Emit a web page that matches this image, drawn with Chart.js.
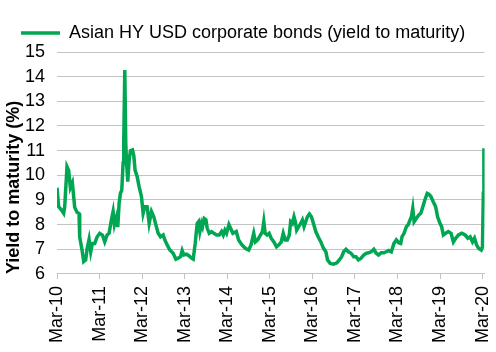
<!DOCTYPE html>
<html>
<head>
<meta charset="utf-8">
<title>Asian HY USD corporate bonds</title>
<script src="https://cdn.jsdelivr.net/npm/chart.js@4"></script>
<style>
  html, body { margin: 0; padding: 0; background: #fff; }
</style>
</head>
<body>
<canvas id="yieldChart" width="496" height="352"></canvas>
<script>
// months since Mar-2010
var monthsFromMar10 = [
  0, 0.47, 1.22, 1.88, 2.16, 2.82, 3.29, 3.76, 4.33, 4.99, 5.65, 6.21, 6.4, 7.06, 7.53, 8.09,
  8.47, 9.04, 9.51, 9.98, 10.64, 11.29, 12.05, 12.8, 13.46, 14.12, 14.68, 15.34, 15.81, 16.19,
  16.75, 17.13, 17.51, 17.88, 18.26, 18.64, 18.82, 19.11, 19.39, 19.58, 19.95, 20.33, 20.71,
  21.27, 21.65, 22.02, 22.59, 23.15, 23.81, 24.28, 24.75, 25.41, 25.98, 26.64, 27.29, 27.86,
  28.52, 29.18, 29.93, 30.4, 31.06, 31.81, 32.75, 33.51, 34.16, 34.82, 35.29, 35.76, 36.52,
  37.27, 37.93, 38.4, 38.96, 39.53, 39.91, 40.28, 40.75, 41.04, 41.51, 41.98, 42.35, 42.92,
  43.58, 44.24, 44.99, 45.74, 46.4, 46.87, 47.34, 47.81, 48.47,
  49.59, 50.54, 51.2, 52.15, 53.09, 54.04, 54.7, 55.46, 55.93, 56.59, 57.35, 57.92, 58.3,
  58.68, 59.24, 59.81, 60.38, 61.14, 61.89, 62.55, 63.22, 63.78, 64.35, 64.92, 65.49, 65.87,
  66.34, 66.81, 67.19, 67.57, 68.14, 68.7, 69.18, 69.65, 70.12, 70.6, 71.16, 71.73, 72.3,
  72.96, 73.62, 74.38, 75.14, 75.8, 76.27, 77.03, 77.98, 78.92, 79.58, 80.25, 80.81, 81.48,
  82.14, 82.9, 83.65, 84.31, 84.98, 85.73, 86.49, 87.15, 87.81, 88.57, 89.33, 89.99, 90.65,
  91.41, 92.17, 92.83, 93.49, 94.25, 95.0, 95.67, 96.33, 96.9, 97.28, 97.84, 98.5, 98.98,
  99.54, 99.92, 100.3, 100.68, 101.34, 102.0, 102.57, 103.14, 103.71, 104.37, 104.84, 105.41,
  106.07, 106.74, 107.3, 107.97, 108.44, 108.91, 109.57, 110.33, 111.09, 111.75, 112.41,
  113.17, 114.12, 115.06, 115.82, 116.48, 117.14, 117.71, 118.28, 118.84, 119.6, 119.95,
  120.2, 120.35, 120.45, 120.55
];

var yieldPct = [
  9.5, 8.73, 8.6, 8.46, 8.7, 10.35, 10.2, 9.5, 9.7, 8.7, 8.5, 8.45, 7.5, 6.97, 6.5, 6.57,
  7.0, 7.4, 6.9, 7.24, 7.24, 7.5, 7.65, 7.58, 7.3, 7.58, 7.65, 8.2, 8.53, 8.0,
  8.3, 7.9, 8.86, 9.27, 9.4, 10.5, 11.4, 14.27, 11.3, 10.6, 9.74, 10.6, 11.0,
  11.03, 10.8, 10.2, 9.95, 9.54, 9.14, 8.46, 8.73, 8.73, 8.05, 8.53, 8.32, 8.0,
  7.65, 7.51, 7.58, 7.38, 7.18, 6.97, 6.84, 6.6, 6.64, 6.7, 6.95, 6.77, 6.8,
  6.73, 6.64, 6.6, 7.24, 8.05, 8.12, 7.72, 8.05, 7.92, 8.25, 8.2, 7.85, 7.65,
  7.72, 7.65, 7.58, 7.58, 7.72, 7.58, 7.78, 7.65, 8.0,
  7.65, 7.72, 7.38, 7.18, 7.04, 6.97, 7.18, 7.65, 7.3, 7.38, 7.58, 7.72, 8.12,
  7.65, 7.58, 7.65, 7.45, 7.3, 7.1, 7.18, 7.3, 7.65, 7.38, 7.38, 7.58, 8.12,
  8.05, 8.32, 8.12, 7.78, 7.92, 8.05, 8.19, 7.92, 8.12, 8.32, 8.43, 8.32, 8.05,
  7.72, 7.51, 7.3, 7.04, 6.9, 6.57, 6.43, 6.4, 6.45, 6.57, 6.7, 6.9, 7.0,
  6.9, 6.84, 6.7, 6.7, 6.57, 6.64, 6.77, 6.84, 6.86, 6.9, 7.0, 6.84, 6.77,
  6.86, 6.86, 6.9, 6.95, 6.9, 7.24, 7.38, 7.27, 7.24, 7.51, 7.65, 7.92, 7.99,
  8.19, 8.32, 8.66, 8.12, 8.26, 8.39, 8.46, 8.73, 9.0, 9.27, 9.24, 9.14,
  8.93, 8.73, 8.32, 8.05, 7.92, 7.58, 7.65, 7.72, 7.65, 7.3, 7.45,
  7.58, 7.65, 7.58, 7.45, 7.51, 7.3, 7.45, 7.18, 7.04, 6.97, 7.1,
  9.27, 11.1, 10.6, 9.7
];

var xTickMonths = [0, 12, 24, 36, 48, 60, 72, 84, 96, 108, 120];
var xTickLabels = ['Mar-10', 'Mar-11', 'Mar-12', 'Mar-13', 'Mar-14', 'Mar-15',
                   'Mar-16', 'Mar-17', 'Mar-18', 'Mar-19', 'Mar-20'];

var seriesName = 'Asian HY USD corporate bonds (yield to maturity)';
var yAxisTitle = 'Yield to maturity (%)';

var green = '#00A651';
var gridGrey = '#C4C4C4';
var fontFamily = "'Liberation Sans', Arial, sans-serif";

Chart.defaults.font.family = fontFamily;
Chart.defaults.font.size = 18;
Chart.defaults.color = '#000';

// nudge the legend over to line up with the reference
var legendOffset = {
  id: 'legendOffset',
  afterLayout: function (chart) {
    chart.legend.left += 13;
  }
};

var points = monthsFromMar10.map(function (m, i) {
  return { x: m, y: yieldPct[i] };
});

var ctx = document.getElementById('yieldChart').getContext('2d');

new Chart(ctx, {
  type: 'line',
  data: {
    datasets: [{
      label: seriesName,
      data: points,
      borderColor: green,
      backgroundColor: green,
      borderWidth: 3.5,
      pointRadius: 0,
      tension: 0,
      pointStyle: 'line'
    }]
  },
  options: {
    responsive: false,
    animation: false,
    layout: { padding: { left: 3, top: 0, right: 0, bottom: 2 } },
    plugins: {
      tooltip: { enabled: false },
      legend: {
        position: 'top',
        align: 'start',
        labels: {
          usePointStyle: true,
          pointStyle: 'line',
          pointStyleWidth: 39,
          padding: 5,
          font: { size: 18 }
        }
      }
    },
    scales: {
      x: {
        type: 'linear',
        min: 0,
        max: 120.55,
        afterBuildTicks: function (scale) {
          scale.ticks = xTickMonths.map(function (v) { return { value: v }; });
        },
        afterFit: function (scale) {
          scale.paddingLeft = 0;
          scale.paddingRight = 11.4;
        },
        grid: {
          drawOnChartArea: false,
          drawTicks: true,
          tickLength: 5,
          color: gridGrey
        },
        border: { color: gridGrey, width: 1 },
        ticks: {
          autoSkip: false,
          minRotation: 90,
          maxRotation: 90,
          padding: 7,
          callback: function (v, i) { return xTickLabels[i]; }
        }
      },
      y: {
        min: 6,
        max: 15,
        afterFit: function (scale) {
          scale.paddingTop = 52;
          scale.width = 54;
        },
        ticks: { stepSize: 1, padding: 12, autoSkip: false },
        grid: { color: gridGrey, drawTicks: false },
        border: { display: false },
        title: {
          display: true,
          text: yAxisTitle,
          align: 'start',
          padding: 0,
          font: { size: 18, weight: 'bold' }
        }
      }
    }
  },
  plugins: [legendOffset]
});
</script>
</body>
</html>
